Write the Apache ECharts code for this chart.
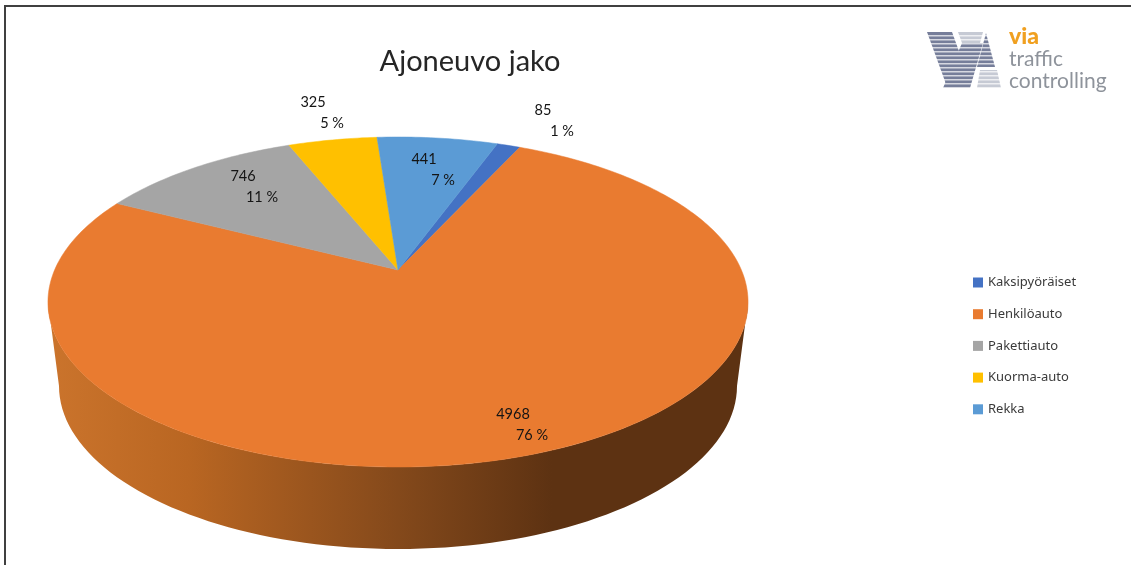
<!DOCTYPE html>
<html>
<head>
<meta charset="utf-8">
<style>html,body{margin:0;padding:0;background:#fff}#chart{width:1131px;height:565px}</style>
<script src="https://cdn.jsdelivr.net/npm/echarts@6/dist/echarts.min.js"></script>
</head>
<body>
<div id="chart"></div>
<script>
// Vehicle counts per class
const categories = ['Kaksipyöräiset', 'Henkilöauto', 'Pakettiauto', 'Kuorma-auto', 'Rekka'];
const counts = [85, 4968, 746, 325, 441];

const sliceColors = ['#4472C4', '#E97B30', '#A5A5A5', '#FFC000', '#5B9BD5'];
// Text block position of each slice label (first line centre)
const labelSpots = [[543, 110], [513, 414], [243, 176], [313, 102], [424, 159]];

// Tilted disc: a unit circle seen in perspective
const disc = { cx: 398, cy: 270, rx: 343.4, ry: 158.8, tilt: 0.194, firstAngle: 20 };
const rim = { top: { cx: 398, cy: 302, rx: 350, ry: 165 }, bottom: { cx: 398, cy: 386, rx: 339, ry: 163 } };

const total = counts.reduce((a, b) => a + b, 0);

function project(deg) {
  const t = deg * Math.PI / 180;
  const u = Math.sin(t), v = Math.cos(t), w = 1 + disc.tilt * v;
  return [disc.cx + disc.rx * u / w, disc.cy - disc.ry * v / w];
}

function sliceRange(i) {
  let start = disc.firstAngle;
  for (let k = 0; k < i; k++) start += counts[k] / total * 360;
  return [start, start + counts[i] / total * 360];
}

function renderSlice(params, api) {
  const i = params.seriesIndex - 1;
  const [a, b] = sliceRange(i);
  const pts = [[disc.cx, disc.cy]];
  const steps = Math.max(4, Math.ceil(b - a));
  for (let s = 0; s <= steps; s++) pts.push(project(a + (b - a) * s / steps));
  const color = sliceColors[i];
  const [lx, ly] = labelSpots[i];
  const value = api.value(0);
  const textStyle = { fill: '#141414', font: '14.5px Lato, "Open Sans", sans-serif', align: 'center', verticalAlign: 'middle' };
  return {
    type: 'group',
    children: [
      { type: 'polygon', shape: { points: pts }, style: { fill: color, stroke: color, lineWidth: 0.5 } },
      { type: 'text', z2: 10, style: Object.assign({ x: lx, y: ly, text: String(value) }, textStyle) },
      { type: 'text', z2: 10, style: Object.assign({ x: lx + 19, y: ly + 21, text: Math.round(value / total * 100) + ' %' }, textStyle) }
    ]
  };
}

// Side wall: the lower half of the top rim joined to the lower half of the bottom rim
function renderWall() {
  const pts = [];
  for (let d = 180; d >= 0; d -= 2) {
    const t = d * Math.PI / 180;
    pts.push([rim.bottom.cx + rim.bottom.rx * Math.cos(t), rim.bottom.cy + rim.bottom.ry * Math.sin(t)]);
  }
  for (let d = 0; d <= 180; d += 2) {
    const t = d * Math.PI / 180;
    pts.push([rim.top.cx + rim.top.rx * Math.cos(t), rim.top.cy + rim.top.ry * Math.sin(t)]);
  }
  return {
    type: 'polygon',
    shape: { points: pts },
    style: {
      fill: new echarts.graphic.LinearGradient(0, 0, 1, 0, [
        { offset: 0, color: '#CB742C' },
        { offset: 0.2, color: '#B96622' },
        { offset: 0.5, color: '#84491B' },
        { offset: 0.72, color: '#5D3212' },
        { offset: 1, color: '#5D3212' }
      ])
    }
  };
}

// Company mark: striped W built from five shapes, cut by thin white bands
const markDark = '#767E9A', markLight = '#C6CAD4';
const markShapes = [
  { c: markDark, p: [[927, 32], [952, 32], [960, 54], [946, 84]] },
  { c: markDark, p: [[962, 43], [983, 43], [970, 88], [943, 88]] },
  { c: markDark, p: [[986, 33], [995, 67], [977, 67]] },
  { c: markLight, p: [[958, 32], [983, 32], [980, 43], [962, 43]] },
  { c: markLight, p: [[980, 70], [997, 70], [1001, 88], [977, 88]] }
];
const markGraphics = markShapes.map(s => ({ type: 'polygon', shape: { points: s.p }, style: { fill: s.c } }));
for (let y = 35; y < 90; y += 4) {
  markGraphics.push({ type: 'rect', shape: { x: 925, y: y, width: 80, height: 1.4 }, style: { fill: '#fff', opacity: 0.7 } });
}
const logoFont = 'Lato, "Open Sans", sans-serif';

const chart = echarts.init(document.getElementById('chart'), null, { renderer: 'canvas' });
chart.setOption({
  animation: false,
  backgroundColor: '#fff',
  title: {
    text: 'Ajoneuvo jako', left: 470, top: 57, textAlign: 'center', textVerticalAlign: 'middle',
    textStyle: { fontFamily: 'Lato, sans-serif', fontSize: 29, fontWeight: 400, color: '#262626' }
  },
  legend: {
    orient: 'vertical', left: 973, top: 276, padding: 0, itemWidth: 10, itemHeight: 10, itemGap: 18.7,
    icon: 'rect', data: categories, selectedMode: false,
    textStyle: { fontFamily: '"Noto Sans", sans-serif', fontSize: 13, color: '#3a3a3a', padding: [0, 0, 0, 0] }
  },
  graphic: [
    // frame lines along the top and left edges
    { type: 'rect', shape: { x: 4, y: 5, width: 1127, height: 2 }, style: { fill: '#404040' } },
    { type: 'rect', shape: { x: 4, y: 5, width: 2, height: 560 }, style: { fill: '#404040' } },
    { type: 'group', children: markGraphics },
    { type: 'text', style: { x: 1009, y: 37, text: 'via', fill: '#F0A020', font: '900 23px ' + logoFont, verticalAlign: 'middle' } },
    { type: 'text', style: { x: 1009, y: 59, text: 'traffic', fill: '#8E939B', font: '21px ' + logoFont, verticalAlign: 'middle' } },
    { type: 'text', style: { x: 1009, y: 81, text: 'controlling', fill: '#8E939B', font: '21px ' + logoFont, verticalAlign: 'middle' } }
  ],
  series: [
    { type: 'custom', name: 'sivu', coordinateSystem: 'none', silent: true, data: [[0]], renderItem: renderWall }
  ].concat(categories.map((name, i) => ({
    type: 'custom',
    name: name,
    coordinateSystem: 'none',
    itemStyle: { color: sliceColors[i] },
    data: [[counts[i]]],
    renderItem: renderSlice
  })))
});
chart.setOption({ title: { left: 465 } });
</script>
</body>
</html>
